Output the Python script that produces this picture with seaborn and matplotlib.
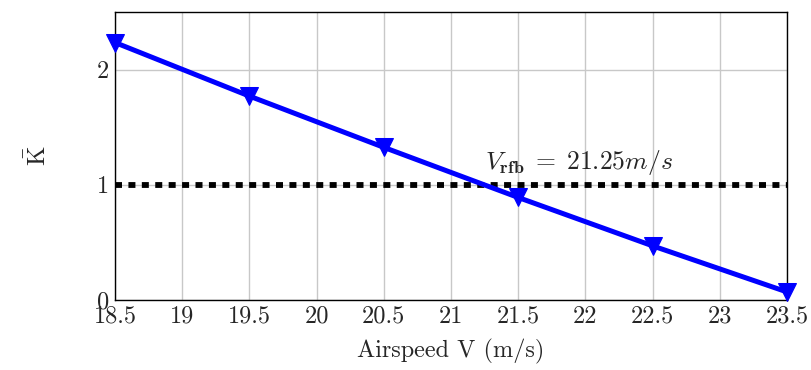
import matplotlib
matplotlib.use("Agg")
import matplotlib.pyplot as plt
import seaborn as sns
import pandas as pd

airspeed = [18.5, 19.5, 20.5, 21.5, 22.5, 23.5]
k_bar = [2.235, 1.77, 1.325, 0.89, 0.47, 0.07]
threshold = 1.0
v_rfb_label = r"$V_{\mathbf{rfb}}\;=\;21.25m/s$"
x_ticks = [18.5, 19, 19.5, 20, 20.5, 21, 21.5, 22, 22.5, 23, 23.5]
x_tick_labels = ["18.5", "19", "19.5", "20", "20.5", "21", "21.5", "22", "22.5", "23", "23.5"]
y_ticks = [0, 1, 2]

sns.set_style("whitegrid")
plt.rcParams["font.family"] = ["cmr10", "DejaVu Serif"]
plt.rcParams["mathtext.fontset"] = "cm"
plt.rcParams["axes.formatter.use_mathtext"] = True

df = pd.DataFrame({"V": airspeed, "K": k_bar})

fig = plt.figure(figsize=(8.12, 3.70), dpi=100)
ax = fig.add_axes([115/812, 1 - 300/370, (787-115)/812, (300-12)/370])

ax.axhline(threshold, color="black", lw=4.2, dashes=(1.2, 1.1), zorder=2)
sns.lineplot(data=df, x="V", y="K", ax=ax, color="blue", lw=3.6, marker="v",
             markersize=13, markeredgecolor="blue", zorder=3, clip_on=False)

ax.text(21.25, 1.07, v_rfb_label, fontsize=18.5, ha="left", va="bottom")

ax.set_xlim(18.5, 23.5)
ax.set_ylim(0, 2.5)
ax.set_xticks(x_ticks)
ax.set_xticklabels(x_tick_labels, fontsize=17.5)
ax.set_yticks(y_ticks)
ax.set_yticklabels([str(t) for t in y_ticks], fontsize=17.5)
ax.tick_params(axis="both", direction="in", length=5, width=1, color="#999999", pad=4)
ax.grid(True, color="#c8c8c8", lw=1)
for s in ax.spines.values():
    s.set_color("black")
    s.set_linewidth(1)
ax.set_xlabel("Airspeed V (m/s)", fontsize=17.5, labelpad=8)
ax.set_ylabel(r"$\bar{\mathrm{K}}$", fontsize=18, labelpad=34)

fig.savefig("out.png", dpi=100)
